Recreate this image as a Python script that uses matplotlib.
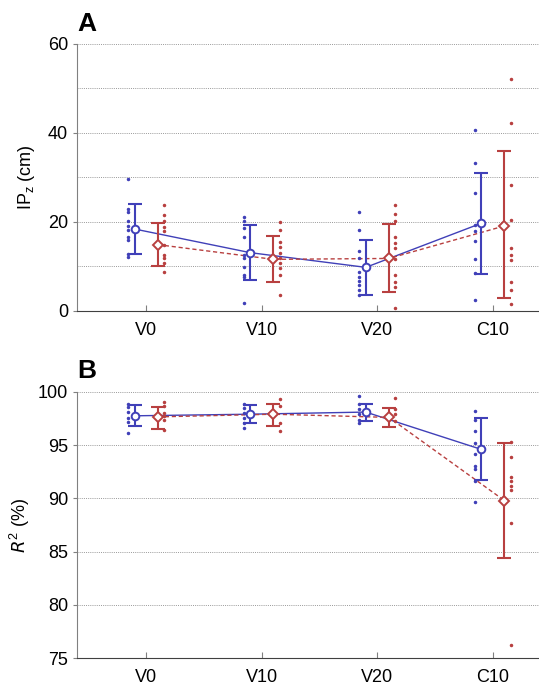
import numpy as np
import matplotlib
matplotlib.use("Agg")
import matplotlib.pyplot as plt

plt.rcParams['font.family'] = ['Liberation Sans', 'DejaVu Sans']

conds = ["V0", "V10", "V20", "C10"]
blue = "#4040b8"
red = "#b84040"

# panel A: IPz (cm)
ipz_mean_b = [18.4, 13.1, 9.8, 19.7]
ipz_sd_hi_b = [24.1, 19.3, 16.0, 30.9]
ipz_sd_lo_b = [12.7, 7.0, 3.6, 8.2]
ipz_mean_r = [14.9, 11.6, 11.8, 19.1]
ipz_sd_hi_r = [19.7, 16.9, 19.5, 36.0]
ipz_sd_lo_r = [10.0, 6.4, 4.2, 2.9]
ipz_pts_b = [
    [29.7, 22.9, 22.3, 20.1, 19.1, 18.2, 16.6, 16.0, 12.8, 12.1],
    [21.0, 20.1, 18.6, 16.7, 12.6, 11.8, 9.9, 8.1, 7.6, 1.7],
    [22.3, 18.2, 13.5, 11.8, 8.8, 7.7, 6.8, 5.8, 4.7, 3.6],
    [40.7, 33.2, 26.4, 19.3, 18.0, 15.8, 11.7, 8.5, 2.5],
]
ipz_pts_r = [
    [23.7, 21.6, 20.1, 18.9, 18.0, 14.8, 12.6, 11.8, 10.7, 8.8],
    [19.9, 18.2, 15.4, 14.3, 13.0, 11.8, 10.7, 9.6, 8.1, 3.6],
    [23.8, 21.8, 20.1, 16.7, 15.2, 14.1, 11.6, 8.1, 6.6, 5.5, 0.6],
    [52.1, 42.2, 28.3, 20.4, 14.1, 12.6, 11.5, 6.6, 4.7, 1.6],
]

# panel B: R2 (%)
r2_mean_b = [97.75, 97.9, 98.1, 94.6]
r2_sd_hi_b = [98.8, 98.8, 98.9, 97.5]
r2_sd_lo_b = [96.8, 97.1, 97.3, 91.7]
r2_mean_r = [97.65, 97.9, 97.6, 89.8]
r2_sd_hi_r = [98.6, 98.9, 98.5, 95.2]
r2_sd_lo_r = [96.5, 96.8, 96.7, 84.4]
r2_pts_b = [
    [98.9, 98.6, 98.1, 97.5, 97.2, 96.1],
    [98.9, 98.5, 98.0, 97.5, 97.1, 96.6],
    [99.6, 98.9, 98.4, 97.9, 97.4, 97.1],
    [98.2, 97.4, 96.3, 95.2, 94.2, 93.0, 92.8, 91.6, 89.7],
]
r2_pts_r = [
    [99.0, 98.7, 98.0, 97.7, 97.4, 96.4],
    [99.3, 98.7, 97.1, 96.3],
    [99.4, 98.4, 97.9, 97.3],
    [95.3, 93.9, 92.0, 91.6, 91.2, 90.8, 87.7, 76.2],
]

x = np.arange(1, 5)


def panel(ax, mb, hb, lb, pb, mr, hr, lr, pr):
    for xs, m, h, l, pts, c, mk, ls in [
        (x - 0.1, mb, hb, lb, pb, blue, "o", "-"),
        (x + 0.1, mr, hr, lr, pr, red, "D", (0, (3, 2))),
    ]:
        m = np.array(m)
        yerr = [m - np.array(l), np.array(h) - m]
        ax.plot(xs, m, color=c, lw=1, ls=ls, zorder=2)
        ax.errorbar(xs, m, yerr=yerr, fmt="none", ecolor=c, elinewidth=1.5,
                    capsize=4.8, capthick=1.5, zorder=3)
        ax.plot(xs, m, ls="none", marker=mk, ms=5.5 if mk == "o" else 5,
                mfc="white", mec=c, mew=1.4, zorder=4)
        off = -0.055 if mk == "o" else 0.055
        for xi, p in zip(xs, pts):
            ax.plot([xi + off] * len(p), p, ls="none", marker="o", ms=1.5,
                    color=c, zorder=3)
    ax.set_xlim(0.4, 4.4)
    ax.set_xticks(x)
    ax.set_xticklabels(conds)
    ax.yaxis.grid(True, which="both", color="#999999", ls=(0, (1, 1.2)), lw=0.7)
    ax.set_axisbelow(True)
    for s in ["top", "right"]:
        ax.spines[s].set_visible(False)
    ax.spines["left"].set_color("#808080")
    ax.spines["bottom"].set_color("#404040")
    ax.tick_params(axis="x", direction="in", length=4, labelsize=13, pad=8,
                   color="#808080")
    ax.tick_params(axis="y", direction="out", length=3, labelsize=13,
                   color="#808080")
    ax.tick_params(axis="y", which="minor", length=0)


fig = plt.figure(figsize=(5.39, 6.85), dpi=100)
axA = fig.add_axes([0.143, 0.546, 0.857, 0.39])
axB = fig.add_axes([0.143, 0.039, 0.857, 0.389])

panel(axA, ipz_mean_b, ipz_sd_hi_b, ipz_sd_lo_b, ipz_pts_b,
      ipz_mean_r, ipz_sd_hi_r, ipz_sd_lo_r, ipz_pts_r)
axA.set_ylim(0, 60)
axA.set_yticks([0, 20, 40, 60])
axA.set_yticks([10, 30, 50], minor=True)
axA.set_ylabel("IP$_\\mathregular{z}$ (cm)", fontsize=13, labelpad=8)

panel(axB, r2_mean_b, r2_sd_hi_b, r2_sd_lo_b, r2_pts_b,
      r2_mean_r, r2_sd_hi_r, r2_sd_lo_r, r2_pts_r)
axB.set_ylim(75, 100)
axB.set_yticks([75, 80, 85, 90, 95, 100])
axB.set_ylabel("$\\it{R}^\\mathregular{2}$ (%)", fontsize=13)

fig.text(0.143, 0.955, "A", fontsize=19, fontweight="bold", ha="left")
fig.text(0.143, 0.448, "B", fontsize=19, fontweight="bold", ha="left")

fig.savefig("out.png", dpi=100)
